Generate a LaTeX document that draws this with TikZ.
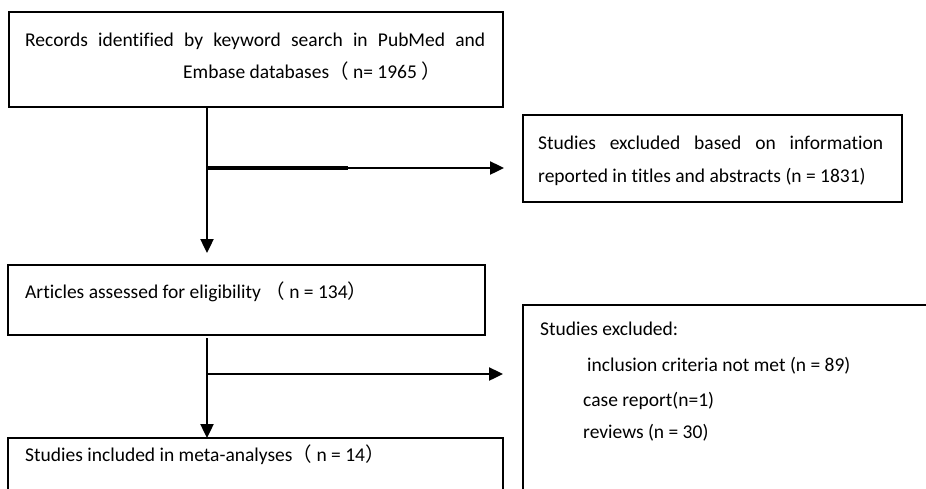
\documentclass[tikz,border=0pt]{standalone}
\usepackage{fontspec}
\setmainfont{Carlito}[Ligatures={NoCommon}]
\newfontfamily\cjk{Noto Sans CJK SC}
\usetikzlibrary{arrows.meta}

\begin{document}
\begin{tikzpicture}[x=1pt, y=-1pt, >={Triangle[length=14pt, width=13pt]},
	box/.style={draw, line width=1.4pt, anchor=north west, inner sep=0pt, outer sep=0pt},
	txt/.style={anchor=base west, inner sep=0pt, font=\fontsize{19.5}{23}\selectfont},
	flow/.style={->, line width=2.4pt}]
	\path[use as bounding box, clip] (0,0) rectangle (926,488);
	\fill[white] (0,0) rectangle (926,488);
	\node[box, minimum width=494pt, minimum height=95pt] (rec) at (9,12) {};
	\node[box, minimum width=379pt, minimum height=87pt] (excl1) at (523,115) {};
	\node[box, minimum width=477pt, minimum height=70pt] (elig) at (8,265) {};
	\node[box, minimum width=495pt, minimum height=100pt] (incl) at (8,438) {};
	\node[box, minimum width=430pt, minimum height=200pt] (excl2) at (523,305) {};
	\node[txt] (rec1) at ([shift={(16,34)}]rec.north west) {\makebox[460pt][s]{Records identified by keyword search in PubMed and}};
	\node[txt] (rec2) at ([shift={(174,66)}]rec.north west) {Embase databases{\cjk （} n= 1965 {\cjk ）}};
	\node[txt] (excl1a) at ([shift={(15,34)}]excl1.north west) {\makebox[345pt][s]{Studies excluded based on information}};
	\node[txt] (excl1b) at ([shift={(15,67)}]excl1.north west) {reported in titles and abstracts (n = 1831)};
	\node[txt] (elig1) at ([shift={(17,33)}]elig.north west) {Articles assessed for eligibility {\cjk （} n = 134{\cjk ）}};
	\node[txt] (incl1) at ([shift={(17,23)}]incl.north west) {Studies included in meta-analyses{\cjk （} n = 14{\cjk ）}};
	\node[txt] (excl2a) at ([shift={(17,30)}]excl2.north west) {Studies excluded:};
	\node[txt] (excl2b) at ([shift={(64,66)}]excl2.north west) {inclusion criteria not met (n = 89)};
	\node[txt] (excl2c) at ([shift={(60,101)}]excl2.north west) {case report(n=1)};
	\node[txt] (excl2d) at ([shift={(60,133)}]excl2.north west) {reviews (n = 30)};
	\coordinate (a1) at ([xshift=198pt]rec.south west);
	\coordinate (j1) at ([yshift=-61pt]a1);
	\draw[flow, shorten >=12pt] (a1) -- (a1 |- elig.north);
	\draw[flow, shorten >=19pt] (j1) -- (j1 -| excl1.west);
	\draw[line width=4pt] (j1) -- ++(141,0);
	\coordinate (a2) at ([xshift=199pt, yshift=-3pt]elig.south west);
	\coordinate (j2) at ([yshift=-36pt]a2);
	\draw[flow] (a2) -- (a2 |- incl.north);
	\draw[flow, shorten >=20pt] (j2) -- (j2 -| excl2.west);
\end{tikzpicture}
\end{document}
